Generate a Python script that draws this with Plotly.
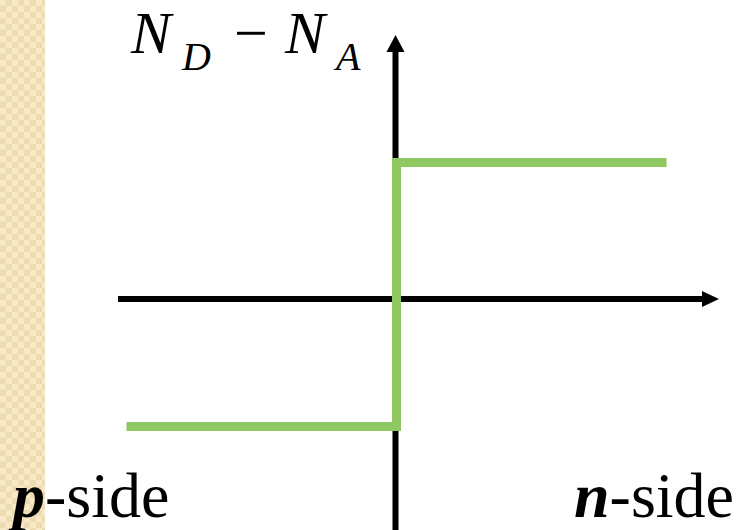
import plotly.graph_objects as go

W, H = 740, 530

# ---- data -------------------------------------------------------------
side_labels = ["p", "n"]            # p-side (left), n-side (right)
side_extent = [-2.0, 2.0]           # horizontal extent of each side (junction at 0)
net_doping = [-0.98, 1.05]          # N_D - N_A on the p-side and on the n-side
junction_x = 0.0

step_x = [side_extent[0], junction_x, junction_x, side_extent[1]]
step_y = [net_doping[0], net_doping[0], net_doping[1], net_doping[1]]

# ---- geometry (pixel frame) ------------------------------------------
X0PX, Y0PX = 396.5, 299.0           # pixel of the origin
SX, SY = 135.0, 130.0               # pixels per data unit


def dx(px):
    return (px - X0PX) / SX


def dy(py):
    return (Y0PX - py) / SY


def px2paper(px, py):
    return px / W, 1 - py / H


fig = go.Figure()

# decorative textured strip on the left
cell = 6
ncols, nrows = 8, 89
strip_z = [[(i + j) % 2 for i in range(ncols)] for j in range(nrows)]
fig.add_trace(go.Heatmap(
    z=strip_z,
    x=[cell / 2 + cell * i for i in range(ncols)],
    y=[cell / 2 + cell * j for j in range(nrows)],
    colorscale=[[0, "#f7e9c6"], [1, "#eddcb2"]],
    showscale=False, hoverinfo="skip",
    xaxis="x2", yaxis="y2",
))

# the doping profile
fig.add_trace(go.Scatter(
    x=step_x, y=step_y, mode="lines",
    line=dict(color="#8fc860", width=9),
    hoverinfo="skip", showlegend=False,
))

shapes = []
# horizontal axis
shapes.append(dict(type="line", xref="x", yref="y", layer="below",
                   x0=dx(118), x1=dx(704), y0=0, y1=0,
                   line=dict(color="black", width=6)))
shapes.append(dict(type="path", xref="x", yref="y", layer="below",
                   xsizemode="pixel", ysizemode="pixel",
                   xanchor=dx(719), yanchor=0,
                   path="M0,0 L-17,8 L-17,-8 Z",
                   fillcolor="black", line=dict(width=0)))
# vertical axis
shapes.append(dict(type="line", xref="x", yref="y", layer="below",
                   x0=dx(395.5), x1=dx(395.5), y0=dy(540), y1=dy(50),
                   line=dict(color="black", width=6)))
shapes.append(dict(type="path", xref="x", yref="y", layer="below",
                   xsizemode="pixel", ysizemode="pixel",
                   xanchor=dx(395.5), yanchor=dy(35),
                   path="M0,0 L-9,-17 L9,-17 Z",
                   fillcolor="black", line=dict(width=0)))

FONT = "Liberation Serif"
ann = []


def add_text(text, px, py, size, xanchor="left", yanchor="bottom"):
    xp, yp = px2paper(px, py)
    ann.append(dict(text=text, x=xp, y=yp, xref="paper", yref="paper",
                    xanchor=xanchor, yanchor=yanchor, showarrow=False,
                    borderpad=0, borderwidth=0,
                    font=dict(family=FONT, size=size, color="black")))


# y label: N_D - N_A
add_text("<i>N</i>", 130, 66, 60)
add_text("<i>D</i>", 181, 79, 40)
add_text("\u2212", 234, 66, 60)
add_text("<i>N</i>", 284, 66, 60)
add_text("<i>A</i>", 333, 79, 40)

# side labels
add_text("<b><i>%s</i></b>-side" % side_labels[0], 8, 531, 64)
add_text("<b><i>%s</i></b>-side" % side_labels[1], 574, 531, 64)

fig.update_layout(
    width=W, height=H,
    margin=dict(l=0, r=0, t=0, b=0),
    paper_bgcolor="white", plot_bgcolor="white",
    showlegend=False,
    xaxis=dict(range=[dx(0), dx(W)], visible=False, fixedrange=True),
    yaxis=dict(range=[dy(H), dy(0)], visible=False, fixedrange=True),
    xaxis2=dict(domain=[0, 45 / W], range=[0, 45], visible=False,
                anchor="y2", fixedrange=True),
    yaxis2=dict(domain=[0, 1], range=[H, 0], visible=False,
                anchor="x2", fixedrange=True),
    shapes=shapes,
    annotations=ann,
)

fig.write_html(
    "out.html",
    config={"displayModeBar": False},
    post_script="document.body.style.margin='0';"
                "document.body.style.overflow='hidden';",
)
